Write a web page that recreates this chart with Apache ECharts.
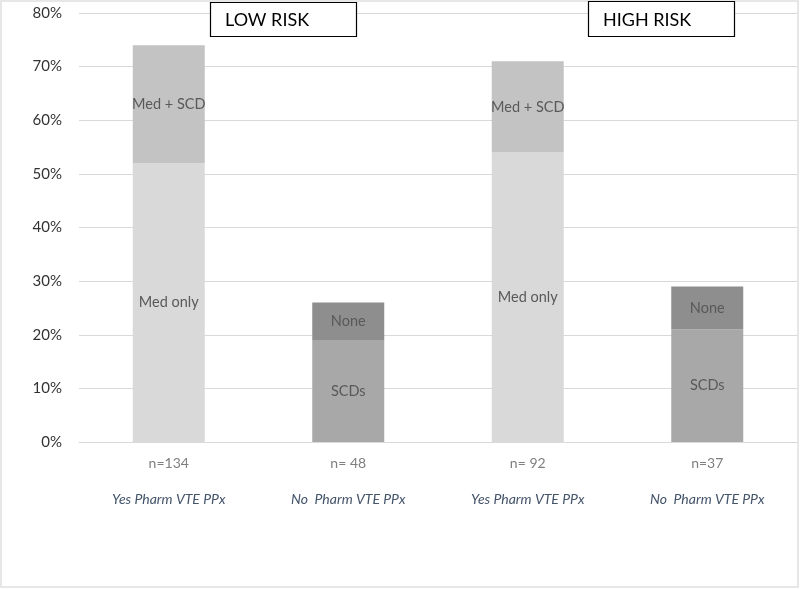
<!DOCTYPE html>
<html>
<head>
<meta charset="utf-8">
<script src="https://cdn.jsdelivr.net/npm/echarts@6/dist/echarts.min.js"></script>
<style>html,body{margin:0;padding:0;background:#fff}#c{width:800px;height:589px}</style>
</head>
<body>
<div id="c"></div>
<script>
const nLabels = ['n=134', 'n= 48', 'n= 92', 'n=37'];
const groupLabels = ['Yes Pharm VTE PPx', 'No  Pharm VTE PPx', 'Yes Pharm VTE PPx', 'No  Pharm VTE PPx'];
const medOnly = [52, null, 54, null];
const medSCD = [22, null, 17, null];
const scds = [null, 19, null, 21];
const none = [null, 7, null, 8];
const yTicks = [0, 10, 20, 30, 40, 50, 60, 70, 80];
const panelTitles = ['LOW RISK', 'HIGH RISK'];

const categories = nLabels.map((n, i) => n + '|' + groupLabels[i]);
const FONT = 'Lato, "Open Sans", sans-serif';

function mk(name, data, color) {
  return {
    name, type: 'bar', stack: 'all', data, barWidth: 72,
    itemStyle: { color },
    label: { show: true, position: 'inside', formatter: () => name,
      color: '#595959', fontSize: 14.5, fontFamily: FONT },
    emphasis: { disabled: true }
  };
}

const chart = echarts.init(document.getElementById('c'), null, { renderer: 'canvas' });
chart.setOption({
  animation: false,
  backgroundColor: '#fff',
  grid: { left: 79, right: 3, top: 13, bottom: 147, containLabel: false },
  xAxis: {
    type: 'category', data: categories,
    axisLine: { lineStyle: { color: '#d9d9d9', width: 1 } },
    axisTick: { show: false },
    axisLabel: {
      margin: 3, interval: 0,
      formatter: v => { const p = v.split('|'); return '{n|' + p[0] + '}\n{c|' + p[1] + '}'; },
      rich: {
        n: { color: '#7f7f7f', fontSize: 14, lineHeight: 36, fontFamily: FONT },
        c: { color: '#44546a', fontSize: 14, lineHeight: 36, fontStyle: 'italic', fontFamily: FONT }
      }
    }
  },
  yAxis: {
    type: 'value', min: yTicks[0], max: yTicks[yTicks.length - 1], interval: 10,
    axisLine: { show: false }, axisTick: { show: false },
    splitLine: { lineStyle: { color: '#d9d9d9', width: 1 } },
    axisLabel: { formatter: '{value}%', color: '#333333', fontSize: 15, margin: 17, fontFamily: FONT }
  },
  series: [
    mk('Med only', medOnly, '#d9d9d9'),
    mk('Med + SCD', medSCD, '#c3c3c3'),
    mk('SCDs', scds, '#a8a8a8'),
    mk('None', none, '#8e8e8e')
  ],
  graphic: [
    { type: 'rect', shape: { x: 1, y: 1, width: 797, height: 586 }, style: { fill: 'none', stroke: '#e0e0e0', lineWidth: 1.5 }, silent: true },
    { type: 'rect', shape: { x: 210.5, y: 2.5, width: 146, height: 34 }, style: { fill: '#fff', stroke: '#000', lineWidth: 1.2 }, z: 10 },
    { type: 'text', x: 225, y: 20, style: { text: panelTitles[0], fill: '#000', fontSize: 18, fontFamily: FONT, verticalAlign: 'middle' }, z: 11 },
    { type: 'rect', shape: { x: 588.5, y: 1.5, width: 146, height: 35 }, style: { fill: '#fff', stroke: '#000', lineWidth: 1.2 }, z: 10 },
    { type: 'text', x: 603, y: 20, style: { text: panelTitles[1], fill: '#000', fontSize: 18, fontFamily: FONT, verticalAlign: 'middle' }, z: 11 }
  ]
});
</script>
</body>
</html>
